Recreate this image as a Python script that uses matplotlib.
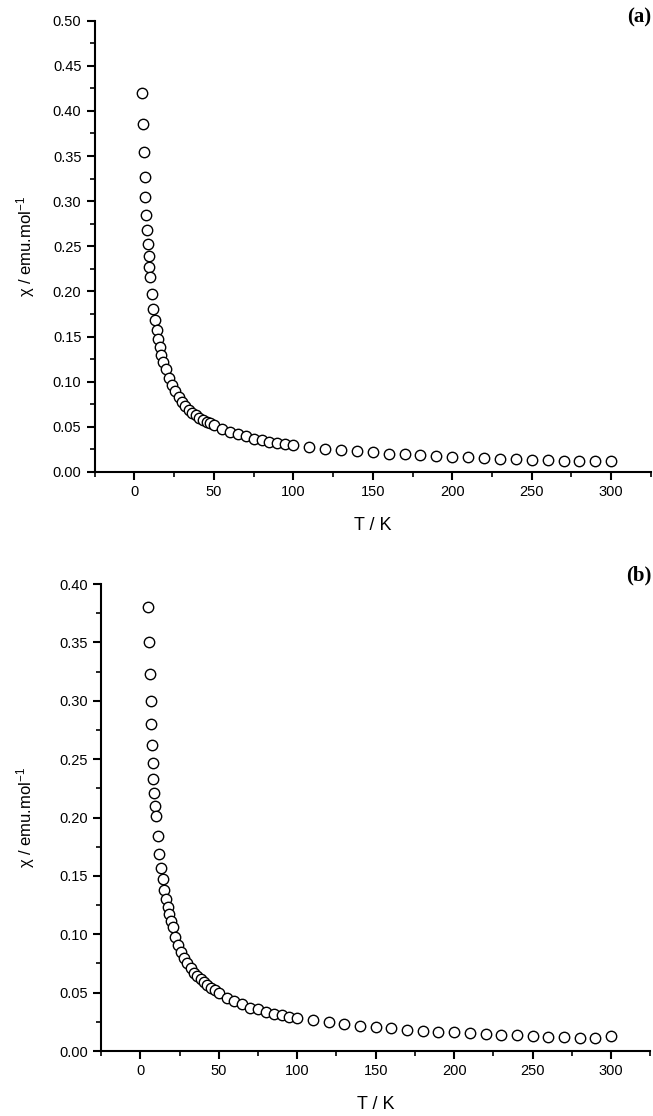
import matplotlib
matplotlib.use('Agg')
import matplotlib.pyplot as plt
from matplotlib.ticker import MultipleLocator

plt.rcParams['font.family'] = ['Liberation Sans', 'DejaVu Sans']
plt.rcParams['mathtext.fontset'] = 'custom'
plt.rcParams['mathtext.rm'] = 'Liberation Sans'
plt.rcParams['mathtext.it'] = 'Liberation Sans:italic'

# Data
T_a = [5.0, 5.5, 6.0, 6.5, 7.0, 7.5, 8.0, 8.5, 9.0, 9.5, 10.0,
       11, 12, 13, 14, 15, 16, 17, 18.2, 19.7, 21.6, 23.9, 25.7, 27.8, 29.7,
       32, 34.1, 36.2, 38.7, 40.8, 43.3, 45.4, 47.5, 50,
       55, 60, 65, 70, 75, 80, 85, 90, 95, 100,
       110, 120, 130, 140, 150, 160, 170, 180, 190, 200,
       210, 220, 230, 240, 250, 260, 270, 280, 290, 300]
chi_a = [0.420, 0.386, 0.355, 0.327, 0.305, 0.285, 0.268, 0.253, 0.239, 0.227, 0.216,
         0.197, 0.181, 0.168, 0.157, 0.147, 0.138, 0.130, 0.122, 0.114, 0.1045, 0.096, 0.0897, 0.0834, 0.0779,
         0.0731, 0.0687, 0.0657, 0.0628, 0.0598, 0.0576, 0.0557, 0.054, 0.0517,
         0.0476, 0.0443, 0.0417, 0.0395, 0.0369, 0.0355, 0.0336, 0.0321, 0.031, 0.0299,
         0.0278, 0.0258, 0.0244, 0.0229, 0.0216, 0.0203, 0.0196, 0.0185, 0.0174, 0.0166,
         0.0162, 0.0155, 0.0148, 0.0144, 0.0137, 0.0130, 0.0125, 0.0122, 0.0118, 0.0118]

T_b = [5.1, 5.5, 6.2, 6.6, 6.8, 7.4, 8.1, 8.3, 8.9, 9.5, 9.8,
       11, 12.1, 13.2, 14.2, 15.3, 16.3, 17.4, 18.4, 19.5, 20.6, 22, 24, 26, 28, 29.9,
       32, 34.1, 36.2, 38.4, 40.7, 42.8, 44.9, 47.5, 50,
       55, 60, 65, 70, 75, 80, 85, 90, 95, 100,
       110, 120, 130, 140, 150, 160, 170, 180, 190, 200,
       210, 220, 230, 240, 250, 260, 270, 280, 290, 300]
chi_b = [0.380, 0.350, 0.323, 0.300, 0.280, 0.262, 0.247, 0.233, 0.221, 0.210, 0.201,
         0.184, 0.169, 0.157, 0.147, 0.138, 0.130, 0.123, 0.117, 0.1116, 0.106, 0.098, 0.0908, 0.085, 0.080, 0.0751,
         0.0708, 0.067, 0.0642, 0.0614, 0.0588, 0.0563, 0.0542, 0.052, 0.0494,
         0.0457, 0.0428, 0.040, 0.0371, 0.036, 0.0337, 0.032, 0.0308, 0.0294, 0.0285,
         0.0265, 0.0246, 0.0231, 0.0217, 0.0206, 0.0195, 0.0184, 0.0174, 0.0165, 0.016,
         0.0154, 0.0146, 0.014, 0.0134, 0.0127, 0.0122, 0.0117, 0.0114, 0.0111, 0.0125]

fig = plt.figure(figsize=(6.53, 11.16), dpi=100)
ax1 = fig.add_axes([0.1449, 0.5771, 0.852, 0.4044])
ax2 = fig.add_axes([0.1548, 0.0582, 0.841, 0.4185])

panels = [(ax1, T_a, chi_a, 0.5, '(a)', 0.9935, -0.104),
          (ax2, T_b, chi_b, 0.4, '(b)', 0.4935, -0.117)]
for ax, T, chi, ymax, lab, ytxt, ylx in panels:
    ax.plot(T, chi, 'o', mfc='white', mec='black', mew=1.0, ms=7.5, ls='none')
    ax.set_xlim(-25, 325)
    ax.set_ylim(0, ymax)
    ax.spines['top'].set_visible(False)
    ax.spines['right'].set_visible(False)
    for s in ('left', 'bottom'):
        ax.spines[s].set_linewidth(1.5)
    ax.xaxis.set_major_locator(MultipleLocator(50))
    ax.xaxis.set_minor_locator(MultipleLocator(25))
    ax.yaxis.set_major_locator(MultipleLocator(0.05))
    ax.yaxis.set_minor_locator(MultipleLocator(0.025))
    ax.yaxis.set_major_formatter(matplotlib.ticker.FormatStrFormatter('%.2f'))
    ax.tick_params(which='major', direction='out', length=6, width=1.5, labelsize=10.5)
    ax.tick_params(which='minor', direction='out', length=3.5, width=1.2)
    ax.set_xlabel('T / K', fontsize=13, labelpad=13)
    ax.set_ylabel(r'χ / emu.mol$^{\mathregular{-1}}$', fontsize=12)
    ax.yaxis.set_label_coords(ylx, 0.5)
    fig.text(0.997, ytxt, lab, ha='right', va='top', fontsize=15,
             fontweight='bold', family='Liberation Serif')

fig.savefig('out.png', dpi=100)
